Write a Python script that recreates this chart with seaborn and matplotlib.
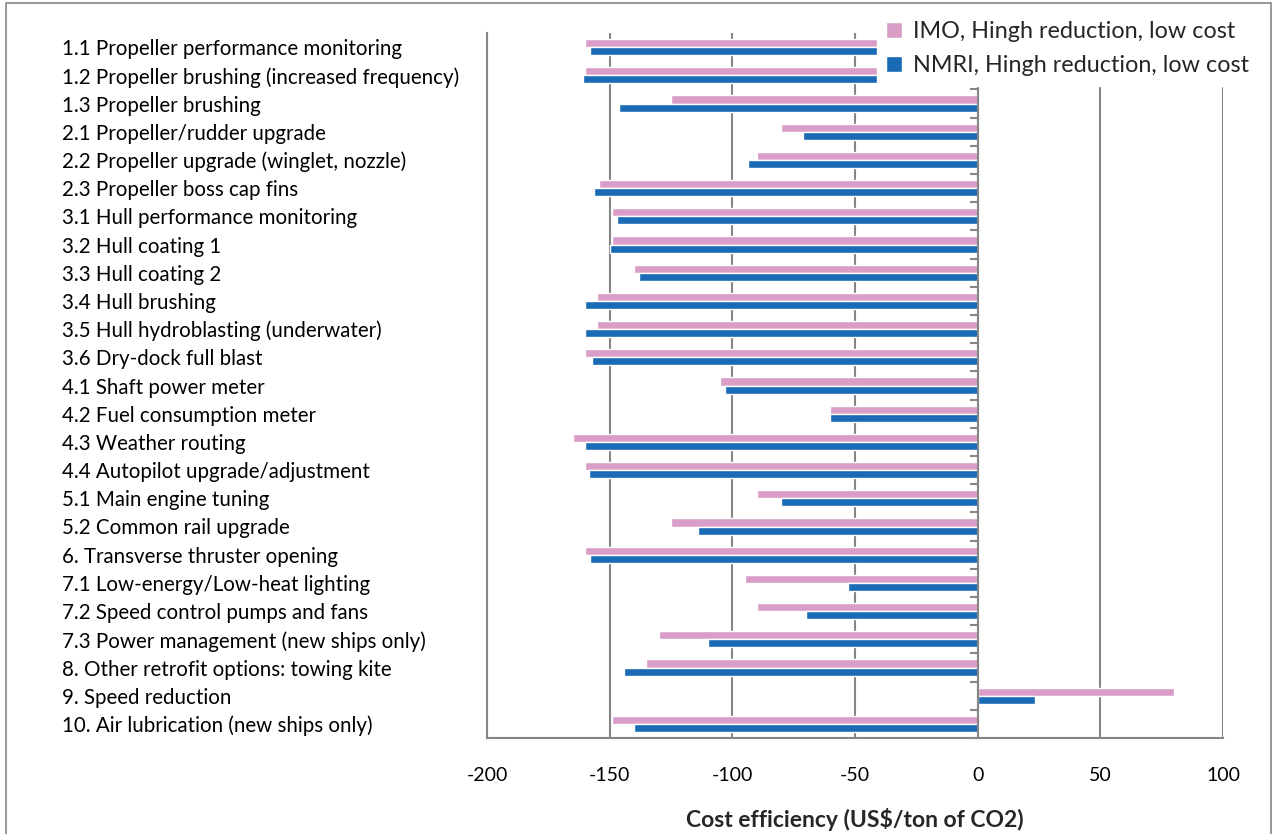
import pandas as pd
import matplotlib.pyplot as plt
import matplotlib.patches as mpatches
import seaborn as sns

# Datos
medidas = [
    "1.1 Propeller performance monitoring",
    "1.2 Propeller brushing (increased frequency)",
    "1.3 Propeller brushing",
    "2.1 Propeller/rudder upgrade",
    "2.2 Propeller upgrade (winglet, nozzle)",
    "2.3 Propeller boss cap fins",
    "3.1 Hull performance monitoring",
    "3.2 Hull coating 1",
    "3.3 Hull coating 2",
    "3.4 Hull brushing",
    "3.5 Hull hydroblasting (underwater)",
    "3.6 Dry-dock full blast",
    "4.1 Shaft power meter",
    "4.2 Fuel consumption meter",
    "4.3 Weather routing",
    "4.4 Autopilot upgrade/adjustment",
    "5.1 Main engine tuning",
    "5.2 Common rail upgrade",
    "6. Transverse thruster opening",
    "7.1 Low-energy/Low-heat lighting",
    "7.2 Speed control pumps and fans",
    "7.3 Power management (new ships only)",
    "8. Other retrofit options: towing kite",
    "9. Speed reduction",
    "10. Air lubrication (new ships only)",
]
imo = [-160, -160, -125, -80, -90, -154.5, -149, -149, -140, -155, -155, -160, -105,
       -60, -165, -160, -90, -125, -160, -95, -90, -130, -135, 80, -149]
nmri = [-158, -161, -146, -71, -93.5, -156.5, -147, -150, -138, -160, -160, -157, -103,
        -60, -160, -158.5, -80, -114, -158, -53, -70, -110, -144, 23.5, -140]
series = ["IMO, Hingh reduction, low cost", "NMRI, Hingh reduction, low cost"]
x_ticks = [-200, -150, -100, -50, 0, 50, 100]

df = pd.DataFrame({
    "medida": medidas * 2,
    "valor": imo + nmri,
    "serie": [series[0]] * len(imo) + [series[1]] * len(nmri),
})

sns.set_style("white")
plt.rcParams['font.family'] = ['Lato', 'DejaVu Sans']
plt.rcParams['axes.unicode_minus'] = False

gris = '#868686'
colores = ['#D99DC8', '#1A6BB5']

fig = plt.figure(figsize=(12.72, 8.34), dpi=100)
ax = fig.add_axes([487 / 1272, 1 - 738 / 834, (1223 - 487) / 1272, (738 - 33) / 834])

sns.barplot(data=df, y="medida", x="valor", hue="serie", orient="h",
            palette=colores, saturation=1, width=0.58, errorbar=None, ax=ax)

ax.set_xlim(-200, 100)
ax.set_xticks(x_ticks)
ax.xaxis.grid(True, color=gris, linewidth=1.5)
ax.yaxis.grid(False)
ax.set_axisbelow(True)

for s in ['top', 'right']:
    ax.spines[s].set_visible(False)
for s in ['left', 'bottom']:
    ax.spines[s].set_color(gris)
    ax.spines[s].set_linewidth(1.5)

# etiquetas de categorias alineadas a la izquierda
ax.tick_params(axis='y', length=0, pad=(487 - 62) * 0.72, labelsize=14.8, labelcolor='black')
for lbl in ax.get_yticklabels():
    lbl.set_ha('left')
ax.set_ylabel("")

ax.tick_params(axis='x', direction='out', length=6, width=1.5, color=gris,
               pad=15, labelsize=14, labelcolor='black')
ax.set_xlabel("Cost efficiency (US$/ton of CO2)", fontsize=16.5, fontweight='bold', labelpad=17)

# eje vertical en cero con marcas entre categorias
tw = ax.twinx()
tw.set_ylim(ax.get_ylim())
for s in ['top', 'right', 'bottom']:
    tw.spines[s].set_visible(False)
tw.spines['left'].set_position(('data', 0))
tw.spines['left'].set_color(gris)
tw.spines['left'].set_linewidth(1.5)
tw.yaxis.set_ticks_position('left')
tw.set_yticks([i - 0.5 for i in range(len(medidas) + 1)])
tw.set_yticklabels([])
tw.tick_params(axis='y', length=6, width=1.5, color=gris, direction='out')
tw.grid(False)

# leyenda
handles, labels = ax.get_legend_handles_labels()
leg = tw.legend(handles, labels, loc='upper right', bbox_to_anchor=(1258 / 1272, 1 - 12 / 834),
                bbox_transform=fig.transFigure, frameon=True, facecolor='white', edgecolor='white',
                framealpha=1, fancybox=False, borderaxespad=0, handlelength=0.7, handleheight=0.7,
                handletextpad=0.45, labelspacing=0.55, fontsize=16.8, borderpad=0.4)
ax.get_legend().remove() if ax.get_legend() else None

# marco del grafico
fig.patches.append(mpatches.Rectangle((6 / 1272, -0.01), (1271 - 6) / 1272, 1.01 - 3 / 834,
                                      transform=fig.transFigure, fill=False,
                                      edgecolor=gris, linewidth=1.2))

plt.savefig("out.png", dpi=100, facecolor='white')
